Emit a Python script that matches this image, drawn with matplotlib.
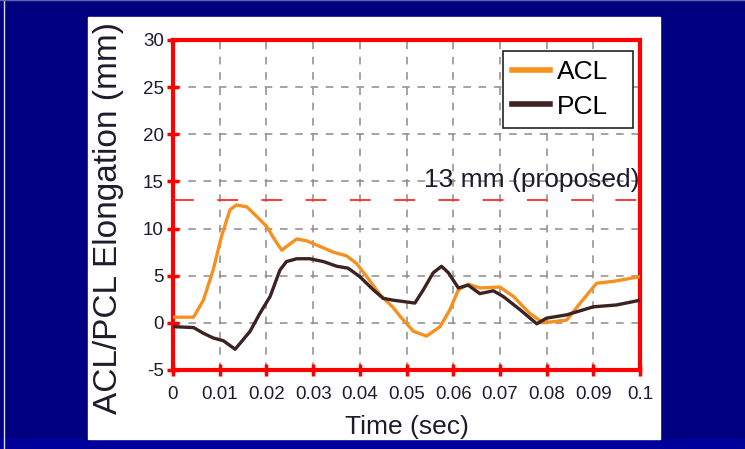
import matplotlib
matplotlib.use("Agg")
from matplotlib import pyplot as plt
from matplotlib.patches import Rectangle
from matplotlib.lines import Line2D

plt.rcParams['font.family'] = ['Liberation Sans', 'DejaVu Sans']
plt.rcParams['axes.unicode_minus'] = False

# data
acl_t = [0.0, 0.0044, 0.0065, 0.0086, 0.0104, 0.0122, 0.0136, 0.0158, 0.0179, 0.0201,
         0.0218, 0.0233, 0.0243, 0.0265, 0.0286, 0.0315, 0.0343, 0.0372, 0.0393, 0.0415,
         0.0443, 0.0472, 0.0486, 0.0515, 0.0543, 0.0572, 0.0593, 0.0611, 0.0632, 0.0657,
         0.0700, 0.0729, 0.0764, 0.0793, 0.0843, 0.0872, 0.0907, 0.0943, 0.1]
acl_mm = [0.6, 0.6, 2.4, 5.6, 9.2, 12.0, 12.5, 12.3, 11.3, 10.2,
          8.8, 7.7, 8.1, 8.9, 8.7, 8.1, 7.5, 7.1, 6.3, 4.9,
          3.0, 1.6, 0.7, -0.9, -1.4, -0.4, 1.4, 3.5, 4.1, 3.7,
          3.8, 2.8, 1.0, 0.0, 0.3, 2.1, 4.2, 4.4, 4.9]

pcl_t = [0.0, 0.0044, 0.0065, 0.0086, 0.0108, 0.0133, 0.0165, 0.0186, 0.0208, 0.0229,
         0.0243, 0.0265, 0.0293, 0.0322, 0.0351, 0.0375, 0.0400, 0.0429, 0.0450, 0.0472,
         0.0518, 0.0536, 0.0557, 0.0575, 0.0590, 0.0611, 0.0632, 0.0657, 0.0686, 0.0707,
         0.0743, 0.0779, 0.0800, 0.0843, 0.0900, 0.0950, 0.1]
pcl_mm = [-0.4, -0.5, -1.1, -1.6, -1.9, -2.8, -0.9, 1.0, 2.8, 5.6,
          6.5, 6.8, 6.8, 6.5, 6.0, 5.8, 4.9, 3.5, 2.6, 2.4,
          2.1, 3.5, 5.3, 6.0, 5.3, 3.7, 4.0, 3.1, 3.4, 2.8,
          1.4, -0.1, 0.5, 0.85, 1.7, 1.9, 2.4]

proposed = 13
x_ticks = [0, 0.01, 0.02, 0.03, 0.04, 0.05, 0.06, 0.07, 0.08, 0.09, 0.1]
x_labels = ['0', '0.01', '0.02', '0.03', '0.04', '0.05', '0.06', '0.07', '0.08', '0.09', '0.1']
y_ticks = [-5, 0, 5, 10, 15, 20, 25, 30]

txt = '#1c1c2c'

fig = plt.figure(figsize=(7.45, 4.49), dpi=100, facecolor='#000080')
# slide background bits, kept behind the axes
fig.patches.append(Rectangle((0, 0), 1, 10 / 449, transform=fig.transFigure,
                             color='#00009a', zorder=-3))
fig.patches.append(Rectangle((88 / 745, 10 / 449), 572 / 745, 422 / 449,
                             transform=fig.transFigure, color='white', zorder=-2))
fig.lines.append(Line2D([4 / 745, 4 / 745], [0, 1], transform=fig.transFigure,
                        color='#d8d8f0', lw=1, zorder=-2))
fig.lines.append(Line2D([0, 1], [0.999, 0.999], transform=fig.transFigure,
                        color='#6464a8', lw=1, zorder=-2))

ax = fig.add_axes([173 / 745, 1 - 370 / 449, 467 / 745, 330 / 449])
ax.set_facecolor('white')

ax.plot(acl_t, acl_mm, color='#f7901e', lw=2.4, label='ACL', zorder=4)
ax.plot(pcl_t, pcl_mm, color='#3c2222', lw=2.4, label='PCL', zorder=4)
ax.axhline(proposed, color='#ff2a2a', lw=1.3, dashes=(11.5, 13), zorder=3)
ax.text(0.0998, 15.2, '13 mm (proposed)', ha='right', va='center',
        fontsize=19, color=txt, zorder=5)

ax.set_xlim(0, 0.1)
ax.set_ylim(-5, 30)
ax.set_xticks(x_ticks)
ax.set_xticklabels(x_labels)
ax.set_yticks(y_ticks)
ax.grid(True, color='#8c8c8c', lw=1.1, dashes=(5, 5))
for s in ax.spines.values():
    s.set_color('red')
    s.set_linewidth(3)
ax.tick_params(direction='inout', length=9, width=2.5, color='red',
               labelsize=13.5, labelcolor=txt)
ax.tick_params(axis='x', pad=7)
ax.tick_params(axis='y', pad=2)

ax.set_xlabel('Time (sec)', fontsize=19, color=txt, labelpad=9)
ax.set_ylabel('ACL/PCL Elongation (mm)', fontsize=24, color=txt)
ax.yaxis.set_label_coords(-0.105, 0.46)

# legend box drawn by hand (it is wider than the entries)
ax.add_patch(Rectangle((0.7066, 0.733), 0.2784, 0.234, transform=ax.transAxes,
                       facecolor='white', edgecolor='#222222', lw=1.2, zorder=6))
leg = ax.legend(loc='upper left', bbox_to_anchor=(0.7066, 0.967), fontsize=19,
                frameon=False, handlelength=1.45, handletextpad=0.25,
                borderpad=0.35, labelspacing=0.4, borderaxespad=0)
leg.set_zorder(7)
for line in leg.get_lines():
    line.set_linewidth(4)

fig.savefig('out.png', dpi=100, facecolor=fig.get_facecolor())
